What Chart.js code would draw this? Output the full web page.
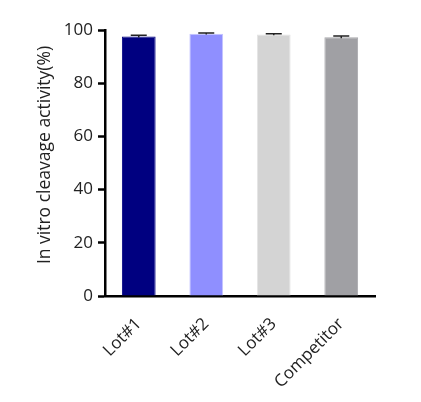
<!DOCTYPE html>
<html>
<head>
<meta charset="utf-8">
<script src="https://cdn.jsdelivr.net/npm/chart.js@4/dist/chart.umd.min.js"></script>
<style>
  html, body { margin: 0; padding: 0; background: #fff; }
</style>
</head>
<body>
<canvas id="chart" width="421" height="402"></canvas>
<script>
const categories = ["Lot#1", "Lot#2", "Lot#3", "Competitor"];
const activity = [97.6, 98.6, 98.3, 97.3];
const errors = [0.4, 0.3, 0.3, 0.4];
const yTicks = [0, 20, 40, 60, 80, 100];
const yTitle = "In vitro cleavage activity(%)";
const barColors = ["#000080", "#8f8fff", "#d4d4d4", "#a0a0a4"];
const barBorders = ["#000080", "#c4c4ff", "#e4e4e4", "#a8a8ac"];

const font = "'Open Sans', 'Noto Sans', sans-serif";

// little whiskers on top of each bar
const errorBars = {
  id: "errorBars",
  afterDatasetsDraw(chart) {
    const ctx = chart.ctx;
    const y = chart.scales.y;
    const meta = chart.getDatasetMeta(0);
    ctx.save();
    ctx.strokeStyle = "#222";
    ctx.lineWidth = 1.5;
    meta.data.forEach((bar, i) => {
      const top = y.getPixelForValue(activity[i] + errors[i]);
      const bottom = y.getPixelForValue(activity[i] - errors[i]);
      const half = 8;
      ctx.beginPath();
      ctx.moveTo(bar.x, bottom);
      ctx.lineTo(bar.x, top);
      ctx.moveTo(bar.x - half, top);
      ctx.lineTo(bar.x + half, top);
      ctx.stroke();
    });
    ctx.restore();
  }
};

// y title sits a bit above the middle of the axis in the original
const sideTitle = {
  id: "sideTitle",
  afterDraw(chart) {
    const ctx = chart.ctx;
    const area = chart.chartArea;
    ctx.save();
    ctx.translate(45, (area.top + area.bottom) / 2 - 8);
    ctx.rotate(-Math.PI / 2);
    ctx.font = "17.5px " + font;
    ctx.fillStyle = "#222";
    ctx.textAlign = "center";
    ctx.textBaseline = "middle";
    ctx.fillText(yTitle, 0, 0);
    ctx.restore();
  }
};

new Chart(document.getElementById("chart").getContext("2d"), {
  type: "bar",
  data: {
    labels: categories,
    datasets: [{
      data: activity,
      backgroundColor: barColors,
      borderColor: barBorders,
      borderWidth: 1,
      barPercentage: 0.5,
      categoryPercentage: 1.0
    }]
  },
  options: {
    responsive: false,
    animation: false,
    layout: { padding: { top: 30, right: 46, left: 0, bottom: 0 } },
    plugins: {
      legend: { display: false },
      tooltip: { enabled: false }
    },
    scales: {
      x: {
        afterFit: (scale) => { scale.height = 106; },
        grid: { drawOnChartArea: false, drawTicks: false },
        border: { color: "#000", width: 2.5 },
        ticks: {
          color: "#222",
          font: { family: font, size: 17 },
          minRotation: 45,
          maxRotation: 45,
          padding: 18
        }
      },
      y: {
        min: 0,
        max: 100,
        afterFit: (scale) => { scale.width = 105; },
        afterBuildTicks: (scale) => { scale.ticks = yTicks.map(v => ({ value: v })); },
        grid: { drawOnChartArea: false, drawTicks: true, tickLength: 7, tickWidth: 2.5, tickColor: "#000" },
        border: { color: "#000", width: 2.5 },
        ticks: {
          color: "#222",
          font: { family: font, size: 17 },
          padding: 5
        }
      }
    }
  },
  plugins: [errorBars, sideTitle]
});
</script>
</body>
</html>
